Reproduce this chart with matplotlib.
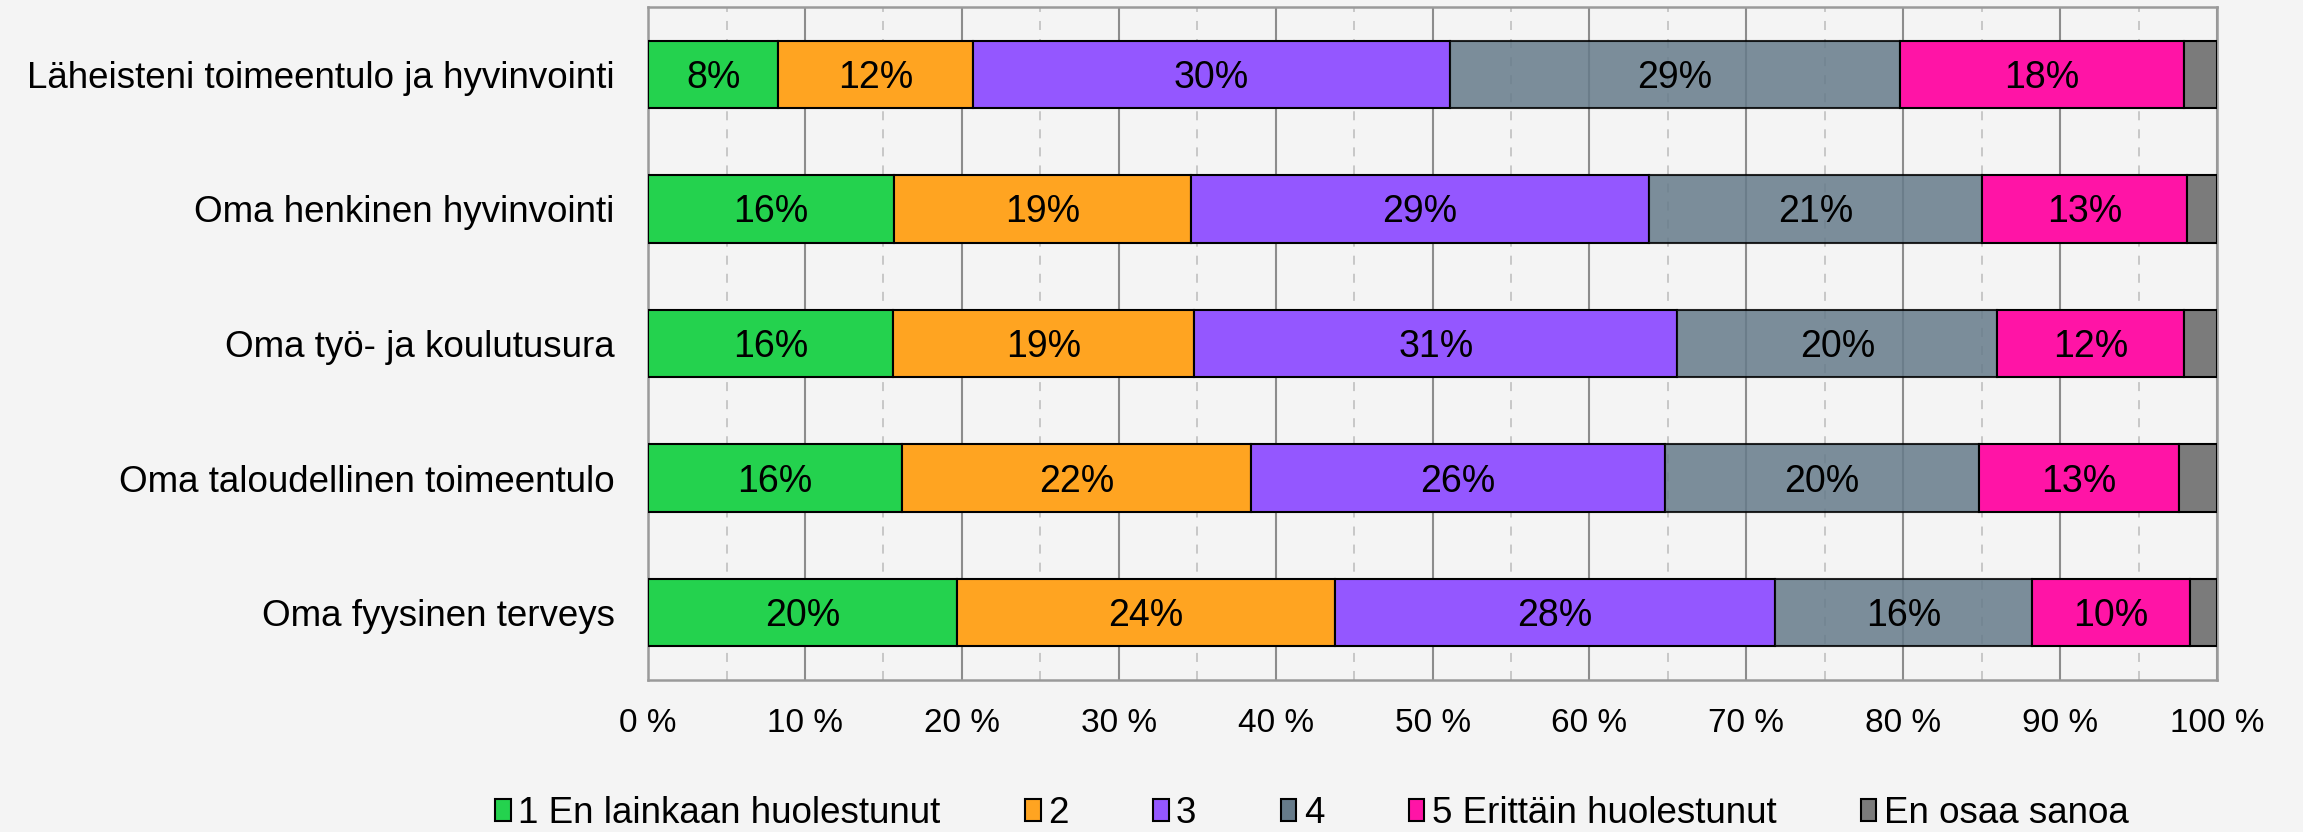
import matplotlib
matplotlib.use("Agg")
import matplotlib.pyplot as plt
import numpy as np
from matplotlib.ticker import MultipleLocator, FuncFormatter

plt.rcParams["font.family"] = ["Liberation Sans", "DejaVu Sans"]

categories = [
    "Läheisteni toimeentulo ja hyvinvointi",
    "Oma henkinen hyvinvointi",
    "Oma työ- ja koulutusura",
    "Oma taloudellinen toimeentulo",
    "Oma fyysinen terveys",
]
series_names = [
    "1 En lainkaan huolestunut",
    "2",
    "3",
    "4",
    "5 Erittäin huolestunut",
    "En osaa sanoa",
]
# percentages per row, one list per answer option
s1 = [8.3, 15.7, 15.6, 16.2, 19.7]
s2 = [12.4, 18.9, 19.2, 22.2, 24.1]
s3 = [30.4, 29.2, 30.8, 26.4, 28.0]
s4 = [28.7, 21.2, 20.4, 20.0, 16.4]
s5 = [18.1, 13.1, 11.9, 12.8, 10.1]
s6 = [2.1, 1.9, 2.1, 2.4, 1.7]
series = [s1, s2, s3, s4, s5, s6]

colors = ["#24D24E", "#FFA421", "#9457FF", "#667B8A", "#FF14A6", "#7B7B7B"]
alphas = [1, 1, 1, 0.85, 1, 1]
show_label = [True, True, True, True, True, False]

bg = "#F4F4F4"
fs_lab = 26.5
fs_bar = 27
fig = plt.figure(figsize=(23.03, 8.32), dpi=100, facecolor=bg)
ax = fig.add_axes([0.2814, 0.1827, 0.6813, 0.8089], facecolor=bg)

y = np.arange(len(categories))
left = np.zeros(len(categories))
bars = []
for vals, name, col, a, lab in zip(series, series_names, colors, alphas, show_label):
    b = ax.barh(y, vals, left=left, height=0.5, color=col, alpha=a,
                edgecolor="black", linewidth=1.5, label=name, zorder=3)
    bars.append(b)
    if lab:
        for yi, l, v in zip(y, left, vals):
            ax.annotate(f"{v:.0f}%", xy=(l + v / 2, yi), xytext=(0, -fs_bar * 0.36),
                        textcoords="offset points", ha="center", va="baseline",
                        fontsize=fs_bar, color="black", zorder=5)
    left += np.array(vals)

ax.set_xlim(0, 100)
ax.set_ylim(len(categories) - 0.5, -0.5)
ax.set_yticks(y)
ax.set_yticklabels(categories, fontsize=fs_lab)
ax.xaxis.set_major_locator(MultipleLocator(10))
ax.xaxis.set_minor_locator(MultipleLocator(5))
ax.xaxis.set_major_formatter(FuncFormatter(lambda v, p: f"{v:.0f} %"))
ax.tick_params(axis="x", which="both", length=0, labelsize=24, pad=20)
ax.tick_params(axis="y", length=0, pad=24)

ax.grid(True, which="major", axis="x", color="#8C8C8C", linewidth=1.5, zorder=1)
ax.grid(True, which="minor", axis="x", color="#C4C4C4", linewidth=1.3,
        linestyle=(0, (5, 5)), zorder=1)
ax.set_axisbelow(True)
for s in ax.spines.values():
    s.set_color("#9A9A9A")
    s.set_linewidth(1.8)

leg = fig.legend(handles=bars, labels=series_names, loc="center",
                 bbox_to_anchor=(0.5697, 0.022), ncol=6, frameon=False,
                 fontsize=fs_lab, handlelength=0.42, handleheight=0.55,
                 handletextpad=0.2, columnspacing=2.3)
for h in leg.legend_handles:
    h.set_alpha(1)

fig.savefig("out.png", dpi=100, facecolor=bg)
